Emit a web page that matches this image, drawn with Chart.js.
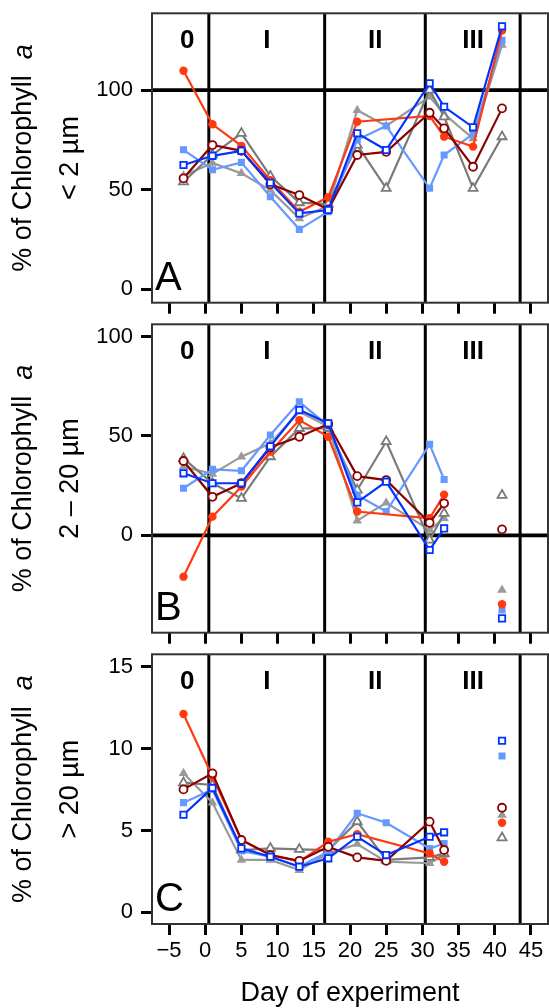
<!DOCTYPE html>
<html>
<head>
<meta charset="utf-8">
<script src="https://cdn.jsdelivr.net/npm/chart.js@4.4.1/dist/chart.umd.min.js"></script>
<style>
  html, body { margin: 0; padding: 0; background: #fff; }
  #wrap { position: relative; width: 549px; height: 1008px; }
  #wrap canvas { position: absolute; left: 0; top: 0; }
</style>
</head>
<body>
<div id="wrap">
  <canvas id="chartA" width="549" height="1008"></canvas>
  <canvas id="chartB" width="549" height="1008"></canvas>
  <canvas id="chartC" width="549" height="1008"></canvas>
</div>
<script>
// sampling days
const days = [-3, 1, 5, 9, 13, 17, 21, 25, 31, 33, 37, 41];
const xTicks = [-5, 0, 5, 10, 15, 20, 25, 30, 35, 40, 45];
const phaseBounds = [0.5, 16.5, 30.4, 43.5];
const phaseNames = ['0', 'I', 'II', 'III'];
const phaseLabelDays = [-2.5, 8.5, 23.5, 37];

// panel A, < 2 um
const aTicks = [0, 50, 100];
const aLightBlue = [70, 60, 63.7, 46.5, 30.1, 39, 75, 82, 50.7, 67.4, 78, 125];
const aBlue = [62.4, 67, 69.5, 53.5, 38.1, 39.8, 78.3, 69.9, 103.4, 91.6, 81.3, 132];
const aRed = [109.7, 82.8, 72, 54.8, 38.9, 46.2, 84.1, null, 87, 76.6, 71.6, 129.8];
const aDarkRed = [55.7, 72.4, 69.5, 52.7, 47.3, 40.1, 67.4, 69, 88.6, 80.8, 61.5, 90.8];
const aLightGray = [57, 63.4, 58.2, 49.8, 35.6, 42, 89.9, 82, 96.6, 88, 75.7, 122.6];
const aGray = [54, 67.5, 78.3, 56.8, 43.5, 42.8, 72.4, 50.7, 100, 86.6, 50.7, 76.6];

// panel B, 2 - 20 um
const bTicks = [0, 50, 100];
const bLightBlue = [23.7, 33.2, 32.5, 50.5, 67.2, 55, 20.2, 12, 45.8, 28.1, null, -37.6];
const bBlue = [31.2, 26.2, 26.2, 44.8, 63.1, 56.4, 16.6, 27, -7.4, 3.5, null, -41.8];
const bRed = [-20.8, 9.4, 24.5, 42.1, 58, 49.6, 12, null, 8.6, 20.5, null, -34.7];
const bDarkRed = [37.4, 19.4, 26.2, 44.3, 49.6, 56, 29.8, 27.8, 6.3, 16.1, null, 3];
const bLightGray = [34.5, 30.9, 39.6, 46.3, 62.2, 54.7, 7.4, 16.4, 2.7, 8.6, null, -27.5];
const bGray = [38.7, 26.2, 18.6, 39.6, 53.8, 53.8, 22.8, 47.2, -2.4, 11.1, null, 20.2];

// panel C, > 20 um
const cTicks = [0, 5, 10, 15];
const cLightBlue = [6.7, 7.5, 3.75, 3.4, 2.8, 3.7, 6.05, 5.47, 3.9, 4.21, null, 9.55];
const cBlue = [5.96, 7.6, 3.91, 3.4, 2.79, 3.3, 4.62, 3.5, 4.62, 4.89, null, 10.48];
const cRed = [12.11, 8.3, 4.42, 3.5, 3.1, 4.31, 4.78, null, 3.6, 3.09, null, 5.47];
const cDarkRed = [7.51, 8.49, 4.42, 3.5, 3.15, 4.0, 3.36, 3.15, 5.54, 3.81, null, 6.39];
const cLightGray = [8.49, 6.7, 3.2, 3.2, 2.58, 3.6, 4.17, 3.1, 3.0, 3.5, null, 5.94];
const cGray = [7.92, 7.78, 3.81, 3.91, 3.85, 3.8, 5.54, 3.2, 3.36, 3.6, null, 4.56];

const FONT = '"Liberation Sans", Arial, Helvetica, sans-serif';

// drawn top-first (dataset 0 ends up on top)
const styles = [
  { color: '#0033ff', shape: 'rect', filled: false, r: 4.5 },
  { color: '#8b0000', shape: 'circle', filled: false, r: 4 },
  { color: '#ff3a10', shape: 'circle', filled: true, r: 4.2 },
  { color: '#6699ff', shape: 'rect', filled: true, r: 5 },
  { color: '#7a7a7a', shape: 'triangle', filled: false, r: 5.2 },
  { color: '#9a9a9a', shape: 'triangle', filled: true, r: 5.5 }
];

function toPoints(vals, breaks) {
  return days.map((d, i) => ({ x: d, y: vals[i] }))
    .filter(p => p.y !== null || breaks.includes(p.x));
}

const decor = {
  id: 'decor',
  beforeDatasetsDraw(chart, args, o) {
    const { ctx, chartArea: a, scales: { x, y } } = chart;
    ctx.save();
    ctx.strokeStyle = '#000';
    ctx.lineWidth = 3;
    phaseBounds.forEach(d => {
      const px = x.getPixelForValue(d);
      ctx.beginPath(); ctx.moveTo(px, a.top); ctx.lineTo(px, a.bottom); ctx.stroke();
    });
    if (o.refLine !== null) {
      const py = y.getPixelForValue(o.refLine);
      ctx.lineWidth = 3.8;
      ctx.beginPath(); ctx.moveTo(a.left, py); ctx.lineTo(a.right, py); ctx.stroke();
    }
    ctx.restore();
  },
  afterDraw(chart, args, o) {
    const { ctx, chartArea: a, scales: { x } } = chart;
    ctx.save();
    ctx.strokeStyle = '#333';
    ctx.lineWidth = 2;
    ctx.strokeRect(a.left, a.top, a.right - a.left, a.bottom - a.top);

    ctx.fillStyle = '#000';
    ctx.font = 'bold 26px ' + FONT;
    ctx.textAlign = 'center';
    ctx.textBaseline = 'middle';
    phaseNames.forEach((t, i) => ctx.fillText(t, x.getPixelForValue(phaseLabelDays[i]), a.top + 28));

    ctx.font = '40px ' + FONT;
    ctx.textAlign = 'left';
    ctx.textBaseline = 'alphabetic';
    ctx.fillText(o.letter, a.left + 3, a.bottom - 13);

    const cy = (a.top + a.bottom) / 2;
    const normal = '27px ' + FONT, italic = 'italic 27px ' + FONT;
    const main = '% of Chlorophyll';
    ctx.font = normal;
    const wMain = ctx.measureText(main).width;
    ctx.font = italic;
    const wA = ctx.measureText('a').width;
    const gap = 16;
    const total = wMain + gap + wA;
    ctx.save();
    ctx.translate(24, cy);
    ctx.rotate(-Math.PI / 2);
    ctx.textBaseline = 'middle';
    ctx.textAlign = 'left';
    ctx.font = normal;
    ctx.fillText(main, -total / 2, 0);
    ctx.font = italic;
    ctx.fillText('a', -total / 2 + wMain + gap, 0);
    ctx.restore();

    ctx.save();
    ctx.translate(71, cy);
    ctx.rotate(-Math.PI / 2);
    ctx.textBaseline = 'middle';
    ctx.textAlign = 'center';
    ctx.font = normal;
    ctx.fillText(o.size, 0, 0);
    ctx.restore();
    ctx.restore();
  }
};

function makePanel(id, cfg) {
  const datasets = cfg.series.map((vals, i) => {
    const s = styles[i];
    return {
      data: toPoints(vals, cfg.breaks),
      borderColor: s.color,
      backgroundColor: s.color,
      borderWidth: 2.2,
      pointStyle: s.shape,
      pointRadius: s.r,
      pointBackgroundColor: s.filled ? s.color : '#fff',
      pointBorderColor: s.color,
      pointBorderWidth: s.filled ? 0 : 1.8,
      tension: 0,
      spanGaps: false
    };
  });
  const tickGrid = { drawOnChartArea: false, drawTicks: true, tickLength: 11, tickWidth: 3, tickColor: '#000' };
  new Chart(document.getElementById(id), {
    type: 'line',
    data: { datasets },
    plugins: [decor],
    options: {
      responsive: false,
      animation: false,
      devicePixelRatio: 1,
      layout: { autoPadding: false, padding: { top: cfg.top, right: 1, left: 0, bottom: 0 } },
      scales: {
        x: {
          type: 'linear',
          min: -7.35,
          max: 47.35,
          afterBuildTicks: s => { s.ticks = xTicks.map(v => ({ value: v })); },
          afterFit: s => {
            s.height = 1008 - cfg.bottom;
            s.paddingLeft = 0; s.paddingRight = 0;
          },
          grid: tickGrid,
          border: { display: false },
          ticks: {
            display: cfg.showX,
            autoSkip: false,
            maxRotation: 0,
            padding: 3,
            color: '#000',
            font: { size: 22, family: FONT },
            callback: v => v < 0 ? '\u2212' + Math.abs(v) : String(v)
          },
          title: {
            display: cfg.showX,
            text: 'Day of experiment',
            color: '#000',
            font: { size: 27, family: FONT, lineHeight: 1.1 },
            padding: { top: 0, bottom: 0 }
          }
        },
        y: {
          min: cfg.yMin,
          max: cfg.yMax,
          afterBuildTicks: s => { s.ticks = cfg.ticks.map(v => ({ value: v })); },
          afterFit: s => {
            s.width = 152;
            s.paddingTop = 0; s.paddingBottom = 0;
          },
          grid: tickGrid,
          border: { display: false },
          ticks: { padding: 8, color: '#000', font: { size: 22, family: FONT } }
        }
      },
      plugins: {
        legend: { display: false },
        tooltip: { enabled: false },
        decor: { letter: cfg.letter, size: cfg.size, refLine: cfg.refLine }
      }
    }
  });
}

makePanel('chartA', {
  top: 13.3, bottom: 302.7, yMin: -6.7, yMax: 138.5, ticks: aTicks,
  series: [aBlue, aDarkRed, aRed, aLightBlue, aGray, aLightGray],
  breaks: [], letter: 'A', size: '< 2 \u00b5m', refLine: 100, showX: false
});
makePanel('chartB', {
  top: 324.3, bottom: 632.7, yMin: -49, yMax: 106.2, ticks: bTicks,
  series: [bBlue, bDarkRed, bRed, bLightBlue, bGray, bLightGray],
  breaks: [37], letter: 'B', size: '2 \u2013 20 \u00b5m', refLine: 0, showX: false
});
makePanel('chartC', {
  top: 654.3, bottom: 924, yMin: -0.71, yMax: 15.76, ticks: cTicks,
  series: [cBlue, cDarkRed, cRed, cLightBlue, cGray, cLightGray],
  breaks: [37], letter: 'C', size: '> 20 \u00b5m', refLine: null, showX: true
});
</script>
</body>
</html>
